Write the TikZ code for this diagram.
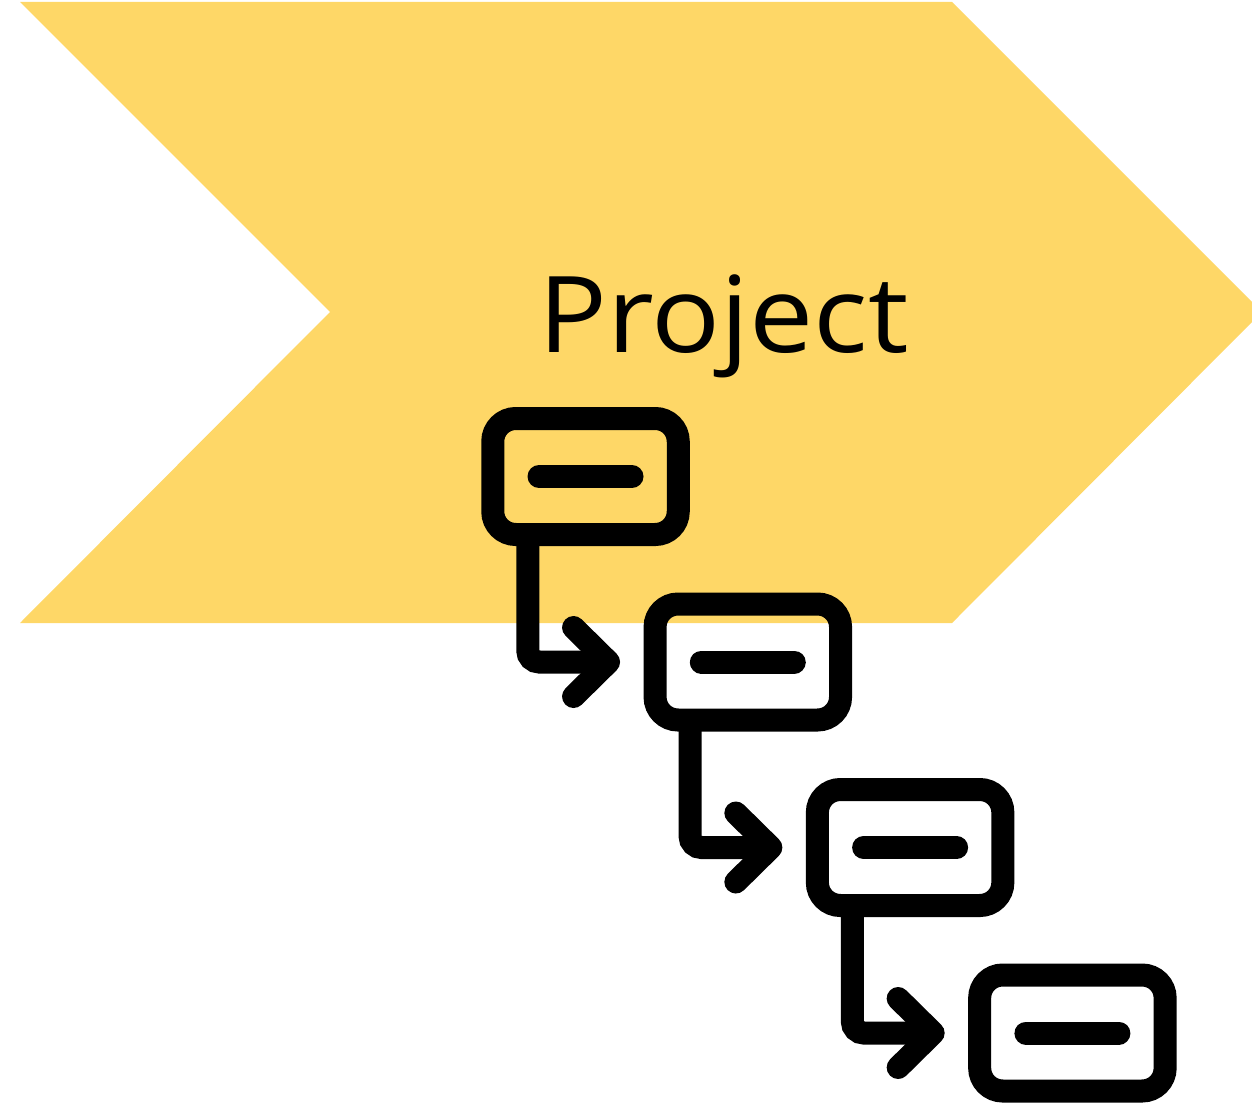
\documentclass[tikz,border=0pt]{standalone}
\usepackage{fontspec}
\setmainfont{Open Sans}
\usepackage{tikz}
\usetikzlibrary{positioning, calc}

\definecolor{chevronyellow}{RGB}{254,215,103}

\tikzset{
  taskbox/.style = {draw, line width=23pt, rounded corners=23pt, inner sep=0pt, outer sep=0pt,
                    minimum width=185.5pt, minimum height=116pt},
  barline/.style = {line width=23pt, line cap=round},
  linkline/.style = {line width=23pt, rounded corners=11.5pt},
  headline/.style = {line width=23pt, line cap=round, line join=round}
}

\begin{document}
\begin{tikzpicture}[x=1pt, y=-1pt]
      \useasboundingbox (0,0) rectangle (1252,1113);
      \fill[chevronyellow] (20,2) -- (952,2) -- (1262,312) -- (952,623) -- (20,623) -- (330,312) -- cycle;

      \node[anchor=base, inner sep=0pt, font=\fontsize{106pt}{106pt}\selectfont] (title) at (723.5,352) {\scalebox{1.08}[1]{Project}};

      \node[taskbox] (b1) at (585.5,476.5) {};
      \node[taskbox] (b2) at ($(b1)+(162.3,185.5)$) {};
      \node[taskbox] (b3) at ($(b2)+(162.3,185.5)$) {};
      \node[taskbox] (b4) at ($(b3)+(162.3,185.5)$) {};

      \draw[barline] ([xshift=-46.5pt]b1.center) -- ([xshift=46.5pt]b1.center);
      \draw[barline] ([xshift=-46.5pt]b2.center) -- ([xshift=46.5pt]b2.center);
      \draw[barline] ([xshift=-46.5pt]b3.center) -- ([xshift=46.5pt]b3.center);
      \draw[barline] ([xshift=-46.5pt]b4.center) -- ([xshift=46.5pt]b4.center);

      \coordinate (t2) at ([xshift=-46.5pt]b2.west);
      \coordinate (t3) at ([xshift=-46.5pt]b3.west);
      \coordinate (t4) at ([xshift=-46.5pt]b4.west);

      \draw[linkline] ([xshift=35pt]b1.south west) |- (t2);
      \draw[headline] ($(t2)+(-35,-34.5)$) -- (t2) -- ($(t2)+(-35,34.5)$);
      \draw[linkline] ([xshift=35pt]b2.south west) |- (t3);
      \draw[headline] ($(t3)+(-35,-34.5)$) -- (t3) -- ($(t3)+(-35,34.5)$);
      \draw[linkline] ([xshift=35pt]b3.south west) |- (t4);
      \draw[headline] ($(t4)+(-35,-34.5)$) -- (t4) -- ($(t4)+(-35,34.5)$);

    \end{tikzpicture}
\end{document}
